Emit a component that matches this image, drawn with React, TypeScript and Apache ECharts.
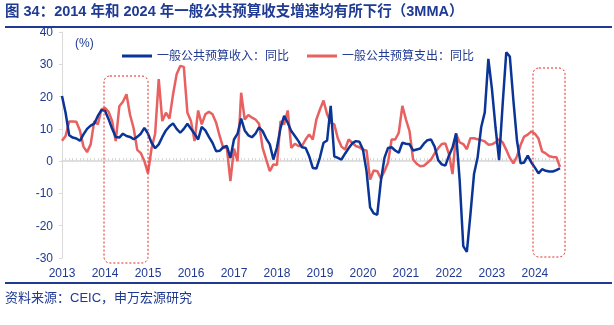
import React, { useEffect, useRef } from "react";
import * as echarts from "echarts";

const TITLE = "图 34：2014 年和 2024 年一般公共预算收支增速均有所下行（3MMA）";
const SOURCE = "资料来源：CEIC，申万宏源研究";
const UNIT = "(%)";
const SERIES_NAMES = ["一般公共预算收入：同比", "一般公共预算支出：同比"];
const START_YEAR = 2013;
const MONTHS = 140; // 2013-01 .. 2024-08

const revenue = [
  20.2, 15, 8, 7.3, 7, 6.3, 8.3, 10, 11, 11.6, 14, 15.8,
  15.6, 13, 10, 7.5, 7.3, 8.5, 7.8, 7.5, 6.8, 7.5, 8.5, 10.3,
  8.5, 5.7, 4, 5.2, 7.5, 9.5, 10.8, 11.7, 10, 8.8, 10, 11.6,
  10, 8.5, 6.7, 10.6, 9.5, 7.5, 5.7, 3.1, 3.2, 4.3, 4.7, 1,
  6.7, 8.5, 13.2, 9.5, 8, 7.4, 8.5, 10.5, 9.3, 7, 5.2, 0.5,
  4.3, 10.3, 14, 11.9, 9.3, 7.8, 6.2, 4.3, 4.1, 1.5, -2.1, -2.3,
  1.2, 5.7, 6.4, 17.1, 1.5, 1, 0.5, 2.3, 4, 5.5, 6.2, 6,
  3.6, -3.1, -14.3, -16.2, -16.6, -6.2, 1, 4.1, 4.3, 3.3, 2.6, 5.7,
  5.4, 5.2, 3.3, 3.6, 3.9, 5.4, 6.5, 6.7, 4.5, 0.3, -1, -1.4,
  1.7, 4.2, 8.6, -6, -26.3, -28.1, -16.5, -4, 1.1, 10.5, 15.1, 31.7,
  22.4, 10.5, 0.3, 17.7, 33.7, 32.4, 18.7, 6.3, -0.7, -0.4, 1.7, -0.4,
  -2, -3.8, -2.5, -3, -3.2, -3.2, -2.8, -2.2,
];

const expenditure = [
  6.3, 7.8, 12.3, 12.3, 12.2, 9.5, 4.5, 2.8, 5.2, 12.4, 11.4, 16,
  16.5, 15.3, 12.4, 6.2, 17, 18.4, 20.7, 14.3, 10.2, 3.5, 2.5, 0,
  -3.8, 4, 8.5, 25.4, 12.4, 15, 13.2, 20.7, 26.9, 29.5, 29.2, 15,
  12.4, 6.2, 15.7, 11.4, 14.5, 15.3, 14.5, 12, 7.8, 4.1, 4.3, -6.2,
  3.9, 0, 21.2, 12.9, 14.3, 13.5, 12.9, 11.6, 4.1, 0.5, -3.1, -1,
  -1.2, 12.4, 11.4, 15.7, 4.1, 5.4, 4.7, 4.7, 6.7, 8.3, 6.7, 12.9,
  16, 18.8, 14.5, 11.9, 11.4, 7, 4.5, 3.6, 6.7, 5.7, 4.7, 4.3,
  3.5, 3.3, -5.7, -2.9, -3.1, -5.4, -3.1, -0.5, 6.7, 6.7, 8.8, 17.1,
  12.9, 9.3, 0.5, -0.8, -1.6, -1.4, -0.5, 0.5, 2.4, 4, 5.3, 5.5,
  2.2, -4, 8.4, 5.8, 5.3, 3.7, 7.1, 7.1, 6.8, 6.5, 6.1, 5.1,
  5.2, 5.8, 6.8, 5.8, 3.5, 1, -0.7, 1.5, 5, 7.6, 8.2, 9.2,
  8.5, 7, 3, 2.4, 1.5, 1.3, 1.2, -1.8,
];

const categories: string[] = [];
for (let i = 0; i < MONTHS; i++) {
  const y = START_YEAR + Math.floor(i / 12);
  const m = (i % 12) + 1;
  categories.push(`${y}-${m < 10 ? "0" + m : m}`);
}

const NAVY = "#1f3a93";
const BLUE = "#0a3596";
const RED = "#e8605f";
const FONT = "'Liberation Sans', 'Noto Sans CJK SC', sans-serif";

export default function App() {
  const ref = useRef<HTMLDivElement>(null);
  useEffect(() => {
    if (!ref.current) return;
    const chart = echarts.init(ref.current, undefined, { renderer: "svg" });
    const isJan = (idx: number) => idx % 12 === 0;
    chart.setOption({
      animation: false,
      textStyle: { fontFamily: FONT },
      grid: { left: 62, right: 54, top: 32, bottom: 67, containLabel: false },
      legend: {
        left: 117,
        top: 45,
        itemWidth: 30,
        itemHeight: 3,
        itemGap: 18,
        icon: "rect",
        textStyle: { color: NAVY, fontSize: 12, fontFamily: FONT },
        data: SERIES_NAMES,
      },
      xAxis: [
        {
          type: "category",
          data: categories,
          boundaryGap: false,
          axisLine: { show: false, onZero: false },
          axisTick: { show: false },
          axisLabel: {
            interval: (idx: number) => isJan(idx),
            formatter: (v: string) => v.slice(0, 4),
            color: NAVY,
            fontSize: 12,
            margin: 9,
          },
          splitLine: { show: false },
        },
        {
          type: "category",
          data: categories,
          boundaryGap: false,
          position: "bottom",
          axisLine: { show: true, onZero: true, lineStyle: { color: "#d6d6d6", width: 1.5 } },
          axisTick: { show: true, interval: 0, length: 3, inside: true, lineStyle: { color: "#d6d6d6" } },
          axisLabel: { show: false },
          splitLine: { show: false },
        },
      ],
      yAxis: {
        type: "value",
        min: -30,
        max: 40,
        interval: 10,
        axisLine: { show: true, lineStyle: { color: "#d9d9d9" } },
        axisTick: { show: true, length: 3, lineStyle: { color: "#d9d9d9" } },
        axisLabel: { color: NAVY, fontSize: 12, margin: 9 },
        splitLine: { show: false },
      },
      series: [
        {
          name: SERIES_NAMES[0],
          type: "line",
          data: revenue,
          symbol: "none",
          lineStyle: { color: BLUE, width: 2.5 },
          itemStyle: { color: BLUE },
          z: 3,
        },
        {
          name: SERIES_NAMES[1],
          type: "line",
          data: expenditure,
          symbol: "none",
          lineStyle: { color: RED, width: 2.5 },
          itemStyle: { color: RED },
          z: 2,
        },
      ],
      graphic: [
        {
          type: "text",
          left: 5,
          top: 4,
          style: { text: TITLE, fill: NAVY, font: `bold 14.5px ${FONT}` },
        },
        {
          type: "rect",
          shape: { x: 5, y: 26, width: 607, height: 2 },
          style: { fill: NAVY },
        },
        {
          type: "text",
          left: 75,
          top: 37,
          style: { text: UNIT, fill: NAVY, font: `12px ${FONT}` },
        },
        {
          type: "rect",
          shape: { x: 104, y: 76, width: 44, height: 187, r: 6 },
          style: { fill: "none", stroke: "#e02424", lineWidth: 1, lineDash: [2, 2] },
          z: 10,
        },
        {
          type: "rect",
          shape: { x: 533, y: 68, width: 32, height: 189, r: 6 },
          style: { fill: "none", stroke: "#e02424", lineWidth: 1, lineDash: [2, 2] },
          z: 10,
        },
        {
          type: "rect",
          shape: { x: 5, y: 282, width: 607, height: 2 },
          style: { fill: NAVY },
        },
        {
          type: "text",
          left: 5,
          top: 291,
          style: { text: SOURCE, fill: NAVY, font: `13px ${FONT}` },
        },
      ],
    });
    return () => chart.dispose();
  }, []);
  return (
    <div
      ref={ref}
      style={{ position: "fixed", left: 0, top: 0, width: 614, height: 325 }}
    />
  );
}
